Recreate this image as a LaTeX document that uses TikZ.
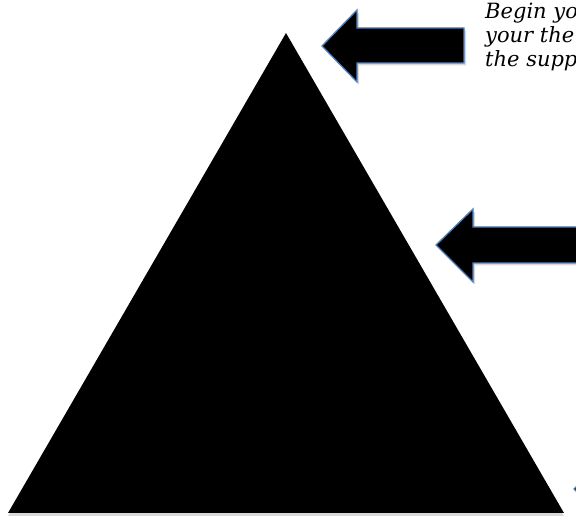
\documentclass[tikz,border=0pt]{standalone}
\usepackage{fontspec}
\usepackage{tikz}
\usetikzlibrary{shadows}
\newfontfamily\notefont{DejaVu Serif}
\definecolor{arrowblue}{RGB}{79,129,189}

\begin{document}
\begin{tikzpicture}[x=1pt,y=-1pt,
    pointer/.style={fill=black,draw=arrowblue,line width=1.3pt,line join=miter,
      drop shadow={shadow xshift=2pt,shadow yshift=-2.5pt,opacity=.3}},
    note/.style={font=\notefont\itshape\fontsize{21}{24}\selectfont,anchor=base west,inner sep=0pt}]

    \useasboundingbox (0,0) rectangle (576,518);
    \clip (0,0) rectangle (576,518);

    % Gambar piramida hitam
    \fill[drop shadow={shadow xshift=0pt,shadow yshift=-3pt,opacity=.3}]
      (286,33) -- (564,513) -- (8,513) -- cycle;

    % Panah ke puncak
    \draw[pointer] (322,46) -- (357,10) -- (357,28) -- (464,28) -- (464,63)
      -- (357,63) -- (357,82) -- cycle;

    % Panah ke sisi tengah
    \draw[pointer] (436,245) -- (473,209) -- (473,227) -- (600,227) -- (600,263)
      -- (473,263) -- (473,282) -- cycle;

    % Panah ke dasar (hampir di luar gambar)
    \draw[pointer] (574,489) -- (610,453) -- (610,471) -- (700,471) -- (700,507)
      -- (610,507) -- (610,525) -- cycle;

    % Teks keterangan
    \node[note] (line1) at (485,19) {Begin yo};
    \node[note] (line2) at (485,43) {your the};
    \node[note] (line3) at (485,67) {the supp};

\end{tikzpicture}
\end{document}
